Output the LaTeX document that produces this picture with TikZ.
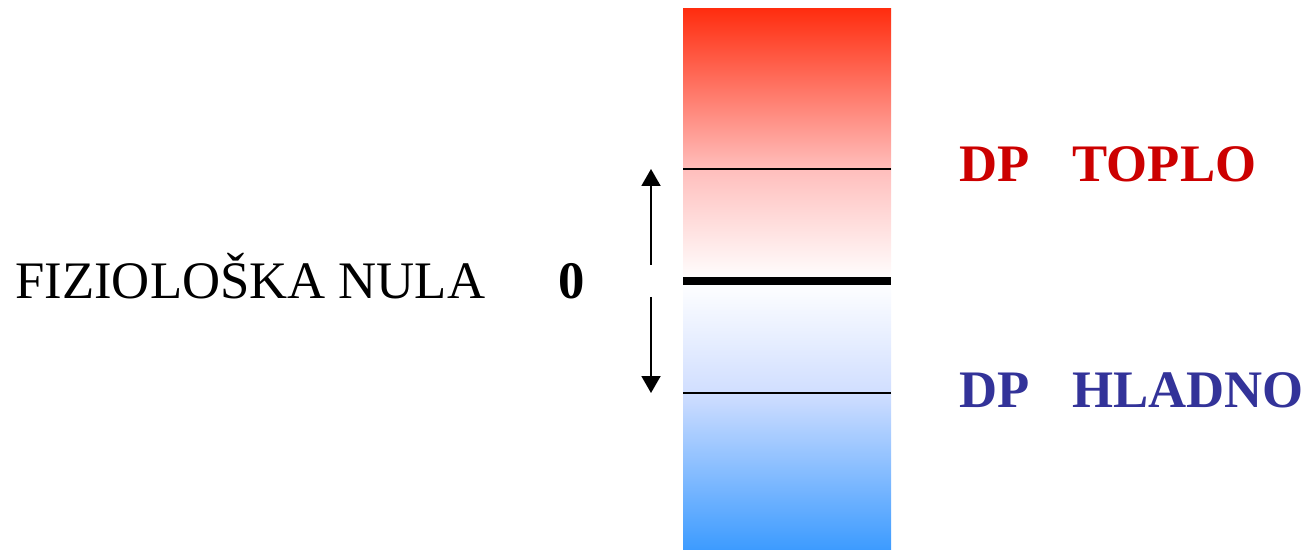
\documentclass[tikz,border=0pt]{standalone}
\usepackage{fontspec}
\setmainfont{Liberation Serif}
\usetikzlibrary{positioning, arrows.meta}
\definecolor{toplored}{RGB}{204,0,0}
\definecolor{hladnoblue}{RGB}{51,51,153}
\definecolor{barred}{RGB}{255,45,15}
\definecolor{barredlight}{RGB}{255,190,188}
\definecolor{barblue}{RGB}{60,155,255}
\definecolor{barbluelight}{RGB}{208,222,255}
\tikzset{
	label/.style = {anchor=base west, inner sep=0pt, font=\fontsize{30}{36}\selectfont},
	arrow/.style = {-{Triangle[length=0.34cm, width=0.38cm]}, line width=1.1pt}
}

\begin{document}
\begin{tikzpicture}[
			x=0.02cm, y=-0.02cm,
			level/.style={line width=0.85pt},
			zero/.style={line width=4.9pt}
			]
			\useasboundingbox (0,0) rectangle (1307,550);
			
			% Skala: warm oben, kalt unten
			\shade[top color=barred, bottom color=barredlight] (683,8.5) rectangle (891,169.5);
			\shade[top color=barredlight, bottom color=white] (683,169) rectangle (891,281);
			\shade[top color=white, bottom color=barbluelight] (683,281) rectangle (891,393.5);
			\shade[top color=barbluelight, bottom color=barblue] (683,393) rectangle (891,550);
			\draw[level] (683,169) -- (891,169);
			\draw[level] (683,393) -- (891,393);
			\draw[zero] (683,281) -- (891,281);
			
			% Pfeile
			\coordinate (upS) at (651,265);
			\coordinate (upE) at (651,169);
			\coordinate (downS) at (651,297);
			\coordinate (downE) at (651,393);
			\draw[arrow] (upS) -- (upE);
			\draw[arrow] (downS) -- (downE);
			
			% Beschriftung
			\node[label] (nula) at (15,298) {FIZIOLOŠKA NULA};
			\node[label, font=\fontsize{30}{36}\selectfont\bfseries] (nic) at (558,298) {0};
			\node[label, text=toplored, font=\fontsize{30}{36}\selectfont\bfseries] (toplo) at (959,182) {DP\hspace{0.86cm}TOPLO};
			\node[label, text=hladnoblue, font=\fontsize{30}{36}\selectfont\bfseries] (hladno) at (959,407) {DP\hspace{0.86cm}HLADNO};
		\end{tikzpicture}
\end{document}
